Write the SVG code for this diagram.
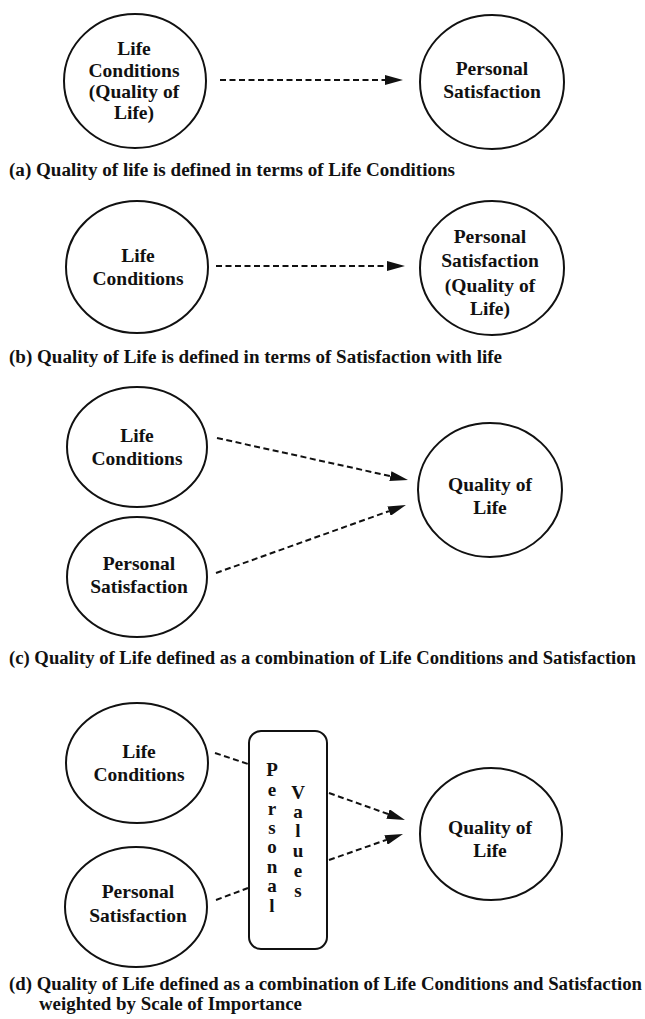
<svg xmlns="http://www.w3.org/2000/svg" width="645" height="1019" viewBox="0 0 645 1019">
<style>
.node{fill:none;stroke:#111;stroke-width:2}
.t{font-family:"Liberation Serif","Times New Roman",serif;font-weight:bold;font-size:19.5px;fill:#111;text-anchor:middle}
.v{font-family:"Liberation Serif","Times New Roman",serif;font-weight:bold;font-size:19px;fill:#111;text-anchor:middle}
.cap{font-family:"Liberation Serif","Times New Roman",serif;font-weight:bold;font-size:18.5px;fill:#111}
.c{fill:none;stroke:#111;stroke-width:2;stroke-dasharray:6 3.5}
</style>
<defs>
<marker id="ah" markerUnits="userSpaceOnUse" markerWidth="18" markerHeight="10" refX="0" refY="5" orient="auto" viewBox="0 0 18 10">
<path d="M0,0 L18,5 L0,10 Z" fill="#111"/>
</marker>
</defs>
<rect width="645" height="1019" fill="#fff"/>

<g id="a-life-conditions">
<ellipse class="node" cx="135" cy="81" rx="71" ry="67"/>
<text class="t" x="134" y="55">Life</text>
<text class="t" x="134" y="77">Conditions</text>
<text class="t" x="134" y="98">(Quality of</text>
<text class="t" x="134" y="119">Life)</text>
</g>
<g id="a-personal-satisfaction">
<ellipse class="node" cx="492" cy="82" rx="72" ry="67"/>
<text class="t" x="492" y="75">Personal</text>
<text class="t" x="492" y="98">Satisfaction</text>
</g>
<text id="cap-a" class="cap" x="9" y="176" textLength="446" lengthAdjust="spacingAndGlyphs">(a) Quality of life is defined in terms of Life Conditions</text>

<g id="b-life-conditions">
<ellipse class="node" cx="137" cy="267" rx="71" ry="66"/>
<text class="t" x="138" y="262">Life</text>
<text class="t" x="138" y="285">Conditions</text>
</g>
<g id="b-personal-satisfaction">
<ellipse class="node" cx="492" cy="268" rx="72" ry="67"/>
<text class="t" x="490" y="243">Personal</text>
<text class="t" x="490" y="267">Satisfaction</text>
<text class="t" x="490" y="292">(Quality of</text>
<text class="t" x="490" y="315">Life)</text>
</g>
<text id="cap-b" class="cap" x="9" y="363" textLength="493" lengthAdjust="spacingAndGlyphs">(b) Quality of Life is defined in terms of Satisfaction with life</text>

<g id="c-life-conditions">
<ellipse class="node" cx="137" cy="447" rx="70" ry="60"/>
<text class="t" x="137" y="442">Life</text>
<text class="t" x="137" y="465">Conditions</text>
</g>
<g id="c-personal-satisfaction">
<ellipse class="node" cx="137" cy="577" rx="70" ry="60"/>
<text class="t" x="139" y="570">Personal</text>
<text class="t" x="139" y="593">Satisfaction</text>
</g>
<g id="c-quality-of-life">
<ellipse class="node" cx="490" cy="490" rx="72" ry="67"/>
<text class="t" x="490" y="491">Quality of</text>
<text class="t" x="490" y="514">Life</text>
</g>
<text id="cap-c" class="cap" x="9" y="664" textLength="627" lengthAdjust="spacingAndGlyphs">(c) Quality of Life defined as a combination of Life Conditions and Satisfaction</text>

<g id="d-life-conditions">
<ellipse class="node" cx="137" cy="763" rx="71" ry="60"/>
<text class="t" x="139" y="758">Life</text>
<text class="t" x="139" y="781">Conditions</text>
</g>
<g id="d-personal-satisfaction">
<ellipse class="node" cx="136" cy="907" rx="71" ry="60"/>
<text class="t" x="138" y="898">Personal</text>
<text class="t" x="138" y="922">Satisfaction</text>
</g>
<g id="d-personal-values">
<rect class="node" x="249" y="731" width="78" height="218" rx="12" ry="12"/>
<text class="v" x="272" y="776">P</text>
<text class="v" x="272" y="796">e</text>
<text class="v" x="272" y="815">r</text>
<text class="v" x="272" y="834">s</text>
<text class="v" x="272" y="853">o</text>
<text class="v" x="272" y="873">n</text>
<text class="v" x="272" y="892">a</text>
<text class="v" x="272" y="912">l</text>
<text class="v" x="298" y="799">V</text>
<text class="v" x="298" y="818">a</text>
<text class="v" x="298" y="837">l</text>
<text class="v" x="298" y="857">u</text>
<text class="v" x="298" y="877">e</text>
<text class="v" x="298" y="897">s</text>
</g>
<g id="d-quality-of-life">
<ellipse class="node" cx="491" cy="834" rx="71" ry="66"/>
<text class="t" x="490" y="834">Quality of</text>
<text class="t" x="490" y="857">Life</text>
</g>
<text id="cap-d" class="cap"><tspan x="9" y="990" textLength="633" lengthAdjust="spacingAndGlyphs">(d) Quality of Life defined as a combination of Life Conditions and Satisfaction</tspan><tspan x="39" y="1010" textLength="263" lengthAdjust="spacingAndGlyphs">weighted by Scale of Importance</tspan></text>

<g id="connectors">
<line class="c" x1="220" y1="80" x2="385" y2="80" marker-end="url(#ah)"/>
<line class="c" x1="216" y1="266" x2="387" y2="266" marker-end="url(#ah)"/>
<line class="c" x1="217" y1="438" x2="390.4" y2="476.1" marker-end="url(#ah)"/>
<line class="c" x1="216" y1="573" x2="389" y2="511.1" marker-end="url(#ah)"/>
<line class="c" x1="215" y1="753" x2="248" y2="764"/>
<line class="c" x1="216" y1="900" x2="248" y2="888"/>
<line class="c" x1="329" y1="793" x2="388" y2="814" marker-end="url(#ah)"/>
<line class="c" x1="329" y1="860" x2="386" y2="840" marker-end="url(#ah)"/>
</g>
</svg>
